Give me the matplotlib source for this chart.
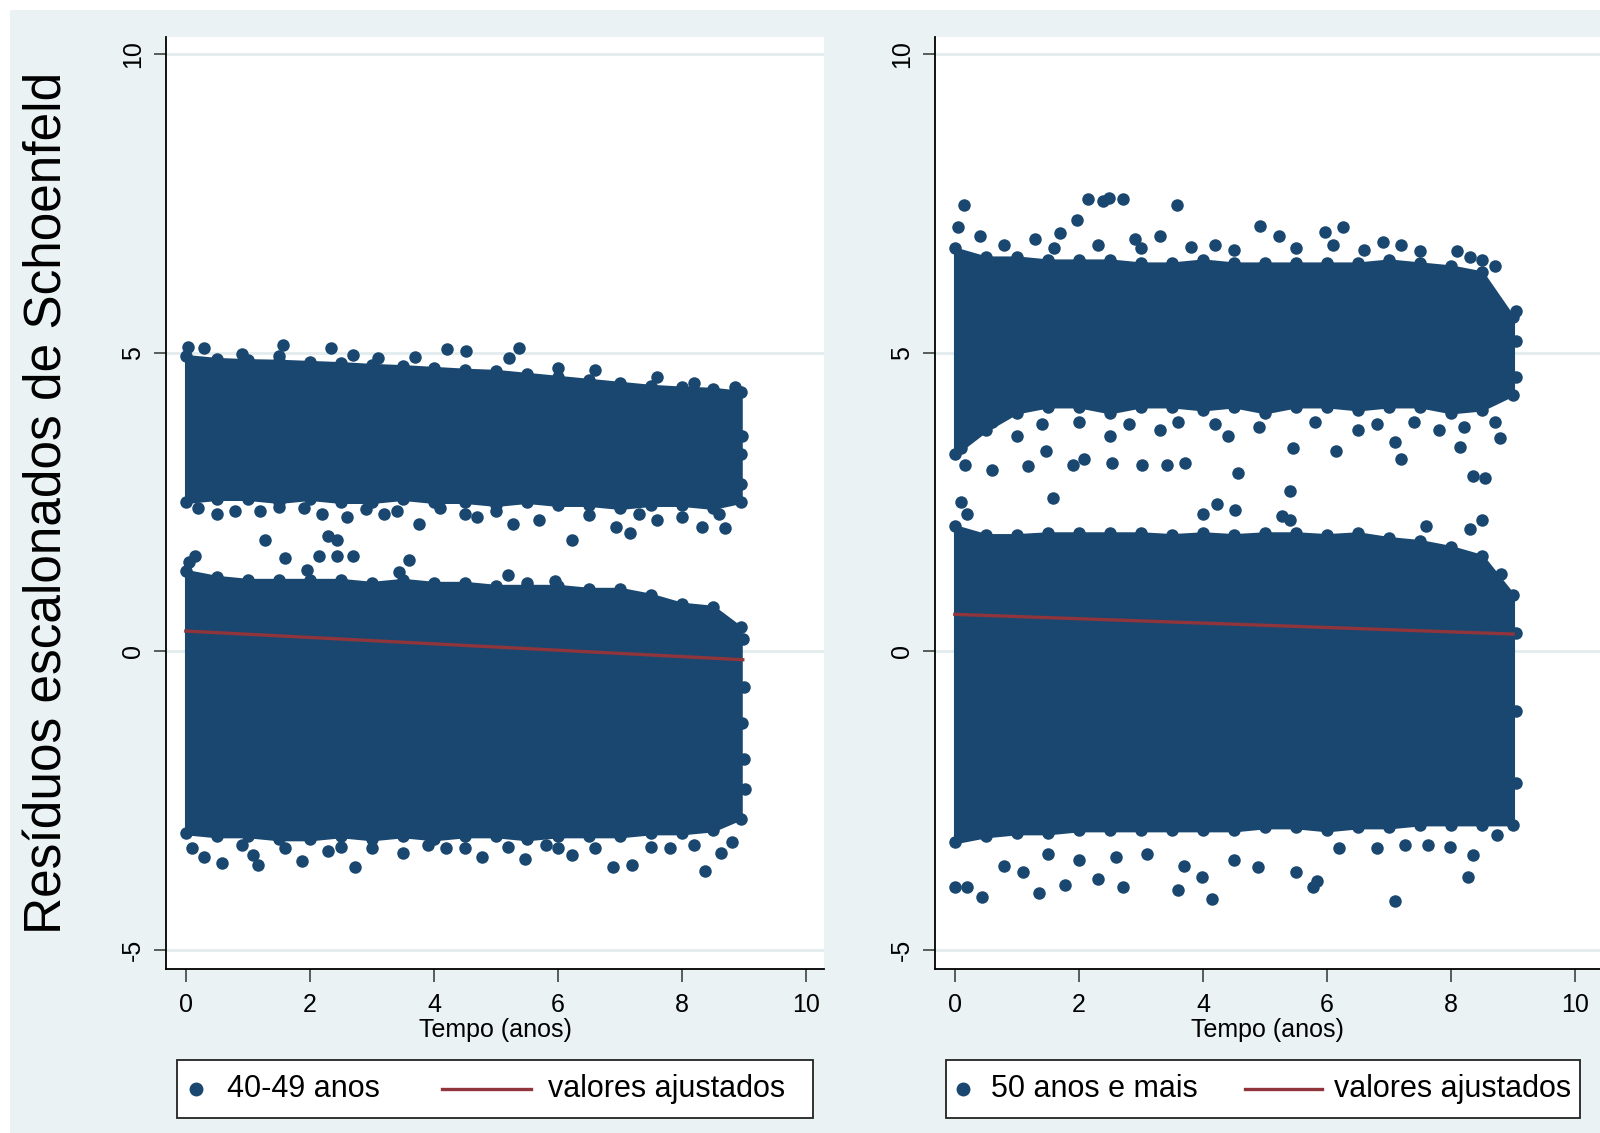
import numpy as np
import matplotlib.pyplot as plt
from matplotlib.patches import Rectangle
from matplotlib.lines import Line2D

plt.rcParams['font.family'] = ['Liberation Sans', 'DejaVu Sans']
plt.rcParams['axes.unicode_minus'] = False

NAVY = "#1A476F"
MAROON = "#90353B"
BG = "#EAF2F3"
GRID = "#E2EBEE"

# ---- painel 40-49 anos: contorno das nuvens densas de pontos ----
t_l = [0, 0.5, 1, 1.5, 2, 2.5, 3, 3.5, 4, 4.5, 5, 5.5, 6, 6.5, 7, 7.5, 8, 8.5, 8.95]
sup_top_l = [4.95, 4.90, 4.88, 4.87, 4.85, 4.83, 4.80, 4.78, 4.75, 4.72, 4.70, 4.65, 4.60, 4.55, 4.50, 4.45, 4.42, 4.40, 4.35]
sup_bot_l = [2.50, 2.55, 2.55, 2.50, 2.55, 2.50, 2.50, 2.55, 2.50, 2.50, 2.45, 2.50, 2.45, 2.45, 2.40, 2.45, 2.45, 2.40, 2.50]
inf_top_l = [1.35, 1.25, 1.20, 1.20, 1.20, 1.20, 1.15, 1.20, 1.15, 1.15, 1.10, 1.10, 1.10, 1.05, 1.05, 0.95, 0.80, 0.75, 0.40]
inf_bot_l = [-3.05, -3.10, -3.10, -3.15, -3.15, -3.10, -3.15, -3.10, -3.15, -3.10, -3.10, -3.15, -3.10, -3.10, -3.10, -3.05, -3.05, -3.00, -2.80]

# pontos isolados fora das nuvens
out_x_l = [0.03, 0.3, 0.9, 1.5, 1.56, 2.34, 2.7, 3.1, 3.69, 4.21, 4.52, 5.21, 5.37, 6.0, 6.6, 7.6, 8.2, 8.86,
           0.5, 1.2, 1.9, 2.6, 3.2, 3.76, 4.7, 5.28, 5.7, 6.22, 6.94, 7.16, 7.6, 8.33, 8.7,
           0.2, 0.8, 1.5, 2.2, 2.9, 3.4, 4.1, 4.5, 5.0, 6.5, 7.3, 8.0, 8.6,
           0.05, 0.15, 1.27, 1.6, 1.95, 2.15, 2.3, 2.43, 2.43, 2.69, 3.43, 3.6, 5.2, 5.5, 5.96,
           0.3, 0.58, 1.08, 1.16, 1.87, 2.3, 2.72, 3.5, 4.2, 4.78, 5.47, 6.0, 6.22, 6.88, 7.19, 7.8, 8.37, 8.63,
           0.1, 0.9, 1.6, 2.5, 3.0, 3.9, 4.5, 5.2, 5.8, 6.6, 7.5, 8.2, 8.8,
           8.98, 9.0, 9.0, 9.02, 8.97, 8.95, 8.97, 8.95]
out_y_l = [5.10, 5.08, 4.98, 4.95, 5.13, 5.08, 4.97, 4.92, 4.93, 5.07, 5.03, 4.91, 5.08, 4.75, 4.72, 4.60, 4.50, 4.42,
           2.30, 2.35, 2.40, 2.25, 2.30, 2.13, 2.25, 2.13, 2.20, 1.86, 2.09, 1.99, 2.20, 2.09, 2.06,
           2.40, 2.35, 2.42, 2.30, 2.38, 2.35, 2.40, 2.30, 2.35, 2.28, 2.30, 2.25, 2.30,
           1.50, 1.60, 1.86, 1.57, 1.37, 1.59, 1.94, 1.86, 1.59, 1.59, 1.33, 1.53, 1.28, 1.15, 1.18,
           -3.45, -3.55, -3.41, -3.58, -3.51, -3.35, -3.61, -3.38, -3.30, -3.45, -3.48, -3.30, -3.41, -3.61, -3.58, -3.30, -3.68, -3.38,
           -3.30, -3.25, -3.30, -3.28, -3.30, -3.25, -3.30, -3.28, -3.25, -3.30, -3.28, -3.25, -3.20,
           0.20, -0.60, -1.80, -2.30, -1.20, 3.30, 3.60, 2.80]

fit_x_l = [0, 8.98]
fit_y_l = [0.34, -0.14]

# ---- painel 50 anos e mais ----
t_r = [0, 0.5, 1, 1.5, 2, 2.5, 3, 3.5, 4, 4.5, 5, 5.5, 6, 6.5, 7, 7.5, 8, 8.5, 9.0]
sup_top_r = [6.75, 6.60, 6.60, 6.55, 6.55, 6.55, 6.50, 6.50, 6.55, 6.50, 6.50, 6.50, 6.50, 6.50, 6.55, 6.50, 6.45, 6.35, 5.60]
sup_bot_r = [3.30, 3.70, 4.00, 4.10, 4.10, 4.00, 4.10, 4.10, 4.05, 4.10, 4.00, 4.10, 4.10, 4.05, 4.10, 4.10, 4.00, 4.05, 4.30]
inf_top_r = [2.10, 1.95, 1.95, 1.98, 1.98, 1.98, 1.98, 1.95, 1.98, 1.95, 1.98, 1.98, 1.95, 1.98, 1.90, 1.85, 1.75, 1.60, 0.95]
inf_bot_r = [-3.20, -3.10, -3.05, -3.05, -3.00, -3.00, -3.00, -3.00, -3.00, -3.00, -2.95, -2.95, -3.00, -2.95, -2.95, -2.90, -2.90, -2.90, -2.90]

out_x_r = [0.15, 1.97, 2.14, 2.39, 2.49, 2.71, 3.58, 4.92, 5.22, 5.97, 6.25, 0.05, 0.4, 1.3, 1.7, 2.9, 3.3, 4.2, 6.9, 7.2, 8.1, 8.5, 8.7,
           0.8, 1.6, 2.3, 3.0, 3.8, 4.5, 5.5, 6.1, 6.6, 7.5, 8.3,
           9.05, 9.05, 9.05,
           0.17, 0.6, 1.18, 1.47, 1.9, 2.08, 2.53, 3.02, 3.42, 3.71, 4.57, 5.45, 6.14, 7.19, 8.15, 8.36, 8.55, 8.78, 5.41,
           0.1, 1.0, 2.5, 3.3, 4.4, 6.5, 7.1, 7.8,
           0.6, 1.4, 2.0, 2.8, 3.6, 4.2, 4.9, 5.8, 6.8, 7.4, 8.2, 8.7,
           4.23, 4.52, 5.28, 1.58, 0.1, 0.2, 4.0, 5.4, 7.6, 8.3, 8.5,
           0.0, 0.2, 0.44, 1.36, 1.78, 2.3, 2.71, 3.6, 3.98, 4.15, 4.88, 5.78, 5.83, 7.1, 8.28, 8.36, 7.25, 7.63, 7.99, 8.74,
           0.8, 1.1, 2.0, 3.1, 3.7, 4.5, 5.5, 6.2, 6.8, 1.5, 2.6,
           9.05, 9.05, 9.05, 8.8]
out_y_r = [7.47, 7.23, 7.58, 7.55, 7.59, 7.58, 7.47, 7.13, 6.95, 7.02, 7.10, 7.10, 6.95, 6.90, 7.00, 6.90, 6.95, 6.80, 6.85, 6.80, 6.70, 6.55, 6.45,
           6.80, 6.75, 6.80, 6.75, 6.78, 6.72, 6.75, 6.80, 6.72, 6.70, 6.60,
           5.70, 5.20, 4.60,
           3.12, 3.04, 3.10, 3.35, 3.12, 3.23, 3.15, 3.12, 3.12, 3.15, 2.98, 3.40, 3.36, 3.23, 3.43, 2.93, 2.90, 3.58, 2.68,
           3.40, 3.60, 3.60, 3.70, 3.60, 3.70, 3.50, 3.70,
           3.85, 3.80, 3.85, 3.80, 3.85, 3.80, 3.75, 3.85, 3.80, 3.85, 3.75, 3.85,
           2.47, 2.36, 2.26, 2.57, 2.50, 2.30, 2.30, 2.20, 2.10, 2.05, 2.20,
           -3.95, -3.95, -4.11, -4.05, -3.92, -3.82, -3.95, -3.99, -3.78, -4.14, -3.61, -3.95, -3.85, -4.18, -3.78, -3.41, -3.24, -3.24, -3.28, -3.07,
           -3.60, -3.70, -3.50, -3.40, -3.60, -3.50, -3.70, -3.30, -3.30, -3.40, -3.45,
           0.30, -1.00, -2.20, 1.30]

fit_x_r = [0, 9.0]
fit_y_r = [0.62, 0.29]

xticks = [0, 2, 4, 6, 8, 10]
yticks = [-5, 0, 5, 10]
legend_labels = ["40-49 anos", "50 anos e mais"]

fig = plt.figure(figsize=(16, 11.33), dpi=100)
fig.patch.set_facecolor("white")
fig.add_artist(Rectangle((10 / 1600, 0), 1 - 10 / 1600, 1 - 10 / 1133,
                         transform=fig.transFigure, facecolor=BG, edgecolor="none", zorder=-10))

ax1 = fig.add_axes([166 / 1600, 1 - 969 / 1133, 658 / 1600, 932 / 1133])
ax2 = fig.add_axes([935 / 1600, 1 - 969 / 1133, 665 / 1600, 932 / 1133])


def draw_panel(ax, t, st, sb, it, ib, ox, oy, fx, fy, xmax):
    ax.set_facecolor("white")
    for top, bot in [(st, sb), (it, ib)]:
        ax.fill_between(t, bot, top, color=NAVY, lw=2, edgecolor=NAVY, zorder=2)
        # contorno irregular: marcadores ao longo das bordas
        ax.scatter(t + t, top + bot, s=81, color=NAVY, lw=0, zorder=2)
    ax.scatter(ox, oy, s=81, color=NAVY, lw=0, zorder=2)
    ax.plot(fx, fy, color=MAROON, lw=2.4, zorder=3)
    ax.set_xlim(-0.32, xmax)
    ax.set_ylim(-5.32, 10.29)
    ax.set_xticks(xticks)
    ax.set_yticks(yticks)
    ax.grid(axis="y", color=GRID, lw=2, zorder=0)
    ax.set_axisbelow(True)
    for s in ["top", "right"]:
        ax.spines[s].set_visible(False)
    for s in ["left", "bottom"]:
        ax.spines[s].set_linewidth(1.3)
        ax.spines[s].set_color("black")
    ax.tick_params(axis="both", length=9, width=1.1, color="#333333", labelsize=18)
    ax.tick_params(axis="x", pad=8)
    ax.tick_params(axis="y", pad=6)
    for lab in ax.get_yticklabels():
        lab.set_rotation(90)
        lab.set_va("center")
    ax.set_xlabel("Tempo (anos)", fontsize=18, labelpad=1)


draw_panel(ax1, t_l, sup_top_l, sup_bot_l, inf_top_l, inf_bot_l, out_x_l, out_y_l, fit_x_l, fit_y_l, 10.29)
draw_panel(ax2, t_r, sup_top_r, sup_bot_r, inf_top_r, inf_bot_r, out_x_r, out_y_r, fit_x_r, fit_y_r, 10.4)

fig.text(48 / 1600, 1 - 503 / 1133, "Resíduos escalonados de Schoenfeld", rotation=90,
         ha="center", va="center", fontsize=37)


# legendas em caixa, no estilo Stata
def draw_legend(x0, x1, mx, tx1, lx0, lx1, tx2, label):
    y0, y1 = 1 - 1118 / 1133, 1 - 1060 / 1133
    yc = (y0 + y1) / 2
    fig.add_artist(Rectangle((x0 / 1600, y0), (x1 - x0) / 1600, y1 - y0, transform=fig.transFigure,
                             facecolor="white", edgecolor="#222222", lw=1.3))
    fig.add_artist(Line2D([mx / 1600], [yc], transform=fig.transFigure, marker="o", ms=9,
                          color=NAVY, lw=0))
    fig.text(tx1 / 1600, yc, label, fontsize=22, va="center", ha="left")
    fig.add_artist(Line2D([lx0 / 1600, lx1 / 1600], [yc, yc], transform=fig.transFigure,
                          color=MAROON, lw=2.4))
    fig.text(tx2 / 1600, yc, "valores ajustados", fontsize=22, va="center", ha="left")


draw_legend(177, 813, 196, 227, 442, 531, 548, legend_labels[0])
draw_legend(946, 1580, 963, 991, 1245, 1322, 1334, legend_labels[1])

plt.savefig("out.png", dpi=100)
